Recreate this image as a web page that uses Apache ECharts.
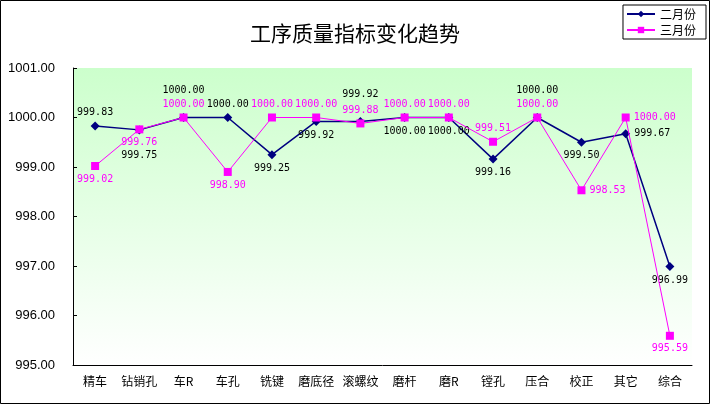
<!DOCTYPE html>
<html>
<head>
<meta charset="utf-8">
<script src="https://cdn.jsdelivr.net/npm/echarts@6/dist/echarts.min.js"></script>
<style>
  html, body { margin: 0; padding: 0; background: #fff; }
  #main { width: 710px; height: 404px; }
</style>
</head>
<body>
<div id="main"></div>
<script>
let categories = ['精车', '钻销孔', '车R', '车孔', '铣键', '磨底径', '滚螺纹', '磨杆', '磨R', '镗孔', '压合', '校正', '其它', '综合']
let feb = [999.83, 999.75, 1000.00, 1000.00, 999.25, 999.92, 999.92, 1000.00, 1000.00, 999.16, 1000.00, 999.50, 999.67, 996.99]
let mar = [999.02, 999.76, 1000.00, 998.90, 1000.00, 1000.00, 999.88, 1000.00, 1000.00, 999.51, 1000.00, 998.53, 1000.00, 995.59]
let yTicks = [995, 996, 997, 998, 999, 1000, 1001]

// where each label sits (styling, kept apart from the values)
let febPos = ['top', 'bottom2', 'top2', 'top', 'bottom', 'bottom', 'top2', 'bottom', 'bottom', 'bottom', 'top2', 'bottom', 'right', 'bottom']
let marPos = ['bottom', 'bottom', 'top', 'bottom', 'top', 'top', 'top', 'top', 'top', 'top', 'top', 'right', 'right', 'bottom']

let labelFont = 'DejaVu Sans Mono'

function withLabels(values, pos) {
    return values.map(function (v, i) {
        let p = pos[i]
        let label = {position: p, distance: 4}
        if (p === 'top2') {
            label = {position: 'top', distance: 18}
        } else if (p === 'bottom2') {
            label = {position: 'bottom', distance: 16}
        }
        return {value: v, label: label}
    })
}

let chart = echarts.init(document.getElementById('main'))
let option = {
    animation: false,
    backgroundColor: '#fff',
    title: {
        text: '工序质量指标变化趋势',
        left: 'center',
        top: 18,
        textStyle: {
            fontFamily: 'Noto Sans CJK SC',
            fontWeight: 'normal',
            fontSize: 21,
            color: '#000'
        }
    },
    legend: {
        orient: 'vertical',
        right: 4,
        top: 5,
        itemWidth: 28,
        itemHeight: 8,
        itemGap: 4,
        padding: [3, 10, 3, 3],
        borderColor: '#000',
        borderWidth: 1,
        textStyle: {fontFamily: 'Noto Sans CJK SC', fontSize: 12, color: '#000'},
        data: ['二月份', '三月份']
    },
    graphic: [{
        type: 'rect',
        shape: {x: 0.5, y: 0.5, width: 709, height: 403},
        style: {fill: 'none', stroke: '#000', lineWidth: 1},
        silent: true
    }],
    grid: {
        left: 73,
        right: 18,
        top: 68,
        bottom: 39,
        show: true,
        borderWidth: 0,
        backgroundColor: new echarts.graphic.LinearGradient(0, 0, 0, 1, [
            {offset: 0, color: '#ccffcc'},
            {offset: 1, color: '#ffffff'}
        ])
    },
    xAxis: {
        type: 'category',
        data: categories,
        axisLine: {lineStyle: {color: '#000', width: 1}},
        axisTick: {inside: true, length: 4, lineStyle: {color: '#000'}},
        axisLabel: {
            fontFamily: 'Noto Sans CJK SC',
            fontSize: 12,
            color: '#000',
            margin: 10,
            interval: 0
        },
        splitLine: {show: false}
    },
    yAxis: {
        type: 'value',
        min: yTicks[0],
        max: yTicks[yTicks.length - 1],
        interval: 1,
        axisLine: {show: true, lineStyle: {color: '#000', width: 1}},
        axisTick: {show: true, inside: true, length: 4, lineStyle: {color: '#000'}},
        axisLabel: {
            fontFamily: 'Liberation Sans',
            fontSize: 13,
            color: '#000',
            margin: 18,
            formatter: function (v) { return v.toFixed(2) }
        },
        splitLine: {show: false}
    },
    series: [
        {
            name: '二月份',
            type: 'line',
            data: withLabels(feb, febPos),
            symbol: 'diamond',
            symbolSize: 9,
            itemStyle: {color: '#000080'},
            lineStyle: {color: '#000080', width: 1.5},
            label: {
                show: true,
                color: '#000',
                fontFamily: labelFont,
                fontSize: 10,
                formatter: function (p) { return p.value.toFixed(2) }
            },
            z: 2
        },
        {
            name: '三月份',
            type: 'line',
            data: withLabels(mar, marPos),
            symbol: 'rect',
            symbolSize: 8,
            itemStyle: {color: '#ff00ff'},
            lineStyle: {color: '#ff00ff', width: 1},
            label: {
                show: true,
                color: '#ff00ff',
                fontFamily: labelFont,
                fontSize: 10,
                formatter: function (p) { return p.value.toFixed(2) }
            },
            z: 3
        }
    ]
}
chart.setOption(option)
</script>
</body>
</html>
